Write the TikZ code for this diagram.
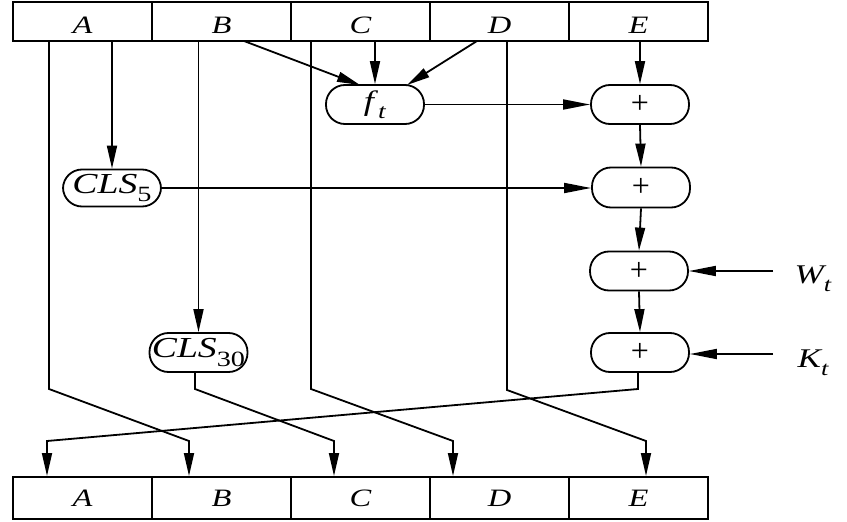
\documentclass[tikz,border=0pt]{standalone}
\usepackage{fontspec}
\setmainfont{Liberation Serif}
\usepackage{graphicx}
\usetikzlibrary{arrows.meta}
\newcommand{\hs}[1]{\scalebox{1.3}[1]{#1}}
\newcommand{\lowr}[1]{\raisebox{-4pt}[\height][\depth]{#1}}
\newcommand{\subt}[1]{\raisebox{-0.3em}{\scalebox{0.75}{#1}}}
\begin{document}
\begin{tikzpicture}[x=1pt,y=-1pt, line width=1.8pt,
  cell/.style={draw, line width=2pt, minimum width=139pt, minimum height=39pt, inner sep=0pt,
    font=\fontsize{25}{25}\selectfont\itshape},
  pill/.style={draw, line width=1.8pt, rounded corners=19pt, minimum width=98pt, minimum height=39pt, inner sep=0pt},
  pluslbl/.style={font=\fontsize{32}{32}\selectfont},
  arr/.style={-{Triangle[length=23pt,width=10pt]}},
  harr/.style={-{Triangle[length=27pt,width=10pt]}},
  lbl/.style={inner sep=0pt, font=\fontsize{27}{27}\selectfont\itshape},
]
\useasboundingbox (0,0) rectangle (847,522);

% top register
\node[cell] (tA) at (82.5,21.5) {\lowr{\hs{A}}};
\node[cell] (tB) at (221.5,21.5) {\lowr{\hs{B}}};
\node[cell] (tC) at (360.5,21.5) {\lowr{\hs{C}}};
\node[cell] (tD) at (499.5,21.5) {\lowr{\hs{D}}};
\node[cell] (tE) at (638.5,21.5) {\lowr{\hs{E}}};

% bottom register
\node[cell, minimum height=42pt] (bA) at (82.5,498) {\hs{A}};
\node[cell, minimum height=42pt] (bB) at (221.5,498) {\hs{B}};
\node[cell, minimum height=42pt] (bC) at (360.5,498) {\hs{C}};
\node[cell, minimum height=42pt] (bD) at (499.5,498) {\hs{D}};
\node[cell, minimum height=42pt] (bE) at (638.5,498) {\hs{E}};

% function nodes
\node[pill] (ft) at (375,104.5) {\fontsize{28}{28}\selectfont\hs{\textit{f}\subt{\textit{t}}}};
\node[pill, minimum height=37pt] (cls5) at (112,188) {\fontsize{29}{29}\selectfont\hs{\textit{CLS}\subt{5}}};
\node[pill] (cls30) at (198.5,352.5) {\fontsize{29}{29}\selectfont\hs{\textit{CLS}\subt{30}}};

\node[pill, pluslbl] (p1) at (640,104.5) {+};
\node[pill, pluslbl, minimum height=40pt] (p2) at (641,187.5) {+};
\node[pill, pluslbl] (p3) at (639,271) {+};
\node[pill, pluslbl] (p4) at (640,352.5) {+};

\node[lbl] (wt) at (813,279) {\hs{W\subt{t}}};
\node[lbl] (kt) at (813,363) {\hs{K\subt{t}}};

% bend coordinates
\coordinate (a1) at (49,389);   \coordinate (a2) at (189,441);
\coordinate (b1) at (195,389);  \coordinate (b2) at (334,441);
\coordinate (c1) at (311,389);  \coordinate (c2) at (453,441);
\coordinate (d1) at (507,390);  \coordinate (d2) at (646,441);
\coordinate (e1) at (638,389);  \coordinate (e2) at (47,441);
\coordinate (bf) at (244,41);   \coordinate (df) at (477,41);
\coordinate (bfe) at (360,85);  \coordinate (dfe) at (407,85);
\coordinate (ws) at (773,271);  \coordinate (ks) at (773,354);

% A
\draw[arr] (tA.south -| cls5.north) -- (cls5.north);
\draw[arr] (tA.south -| a1) -- (a1) -- (a2) -- (bB.north -| a2);
% B
\draw[arr] (tB.south -| cls30.north) -- (cls30.north);
\draw[arr] (bf) -- (bfe);
% C
\draw[arr] (tC.south -| ft.north) -- (ft.north);
\draw[arr] (tC.south -| c1) -- (c1) -- (c2) -- (bD.north -| c2);
% D
\draw[arr] (df) -- (dfe);
\draw[arr] (tD.south -| d1) -- (d1) -- (d2) -- (bE.north -| d2);
% E
\draw[arr] (tE.south -| p1.north) -- (p1.north);

% horizontal inputs
\draw[harr] (ft.east) -- (p1.west);
\draw[harr] (cls5.east) -- (p2.west |- cls5.east);
\draw[harr] (ws) -- (p3.east |- ws);
\draw[harr] (ks) -- (p4.east |- ks);

% adder chain
\draw[arr] (p1.south) -- (p2.north);
\draw[arr] (p2.south) -- (p3.north);
\draw[arr] (p3.south) -- (p4.north);

% outputs
\draw[arr] (cls30.south -| b1) -- (b1) -- (b2) -- (bC.north -| b2);
\draw[arr] (p4.south -| e1) -- (e1) -- (e2) -- (bA.north -| e2);
\end{tikzpicture}
\end{document}
